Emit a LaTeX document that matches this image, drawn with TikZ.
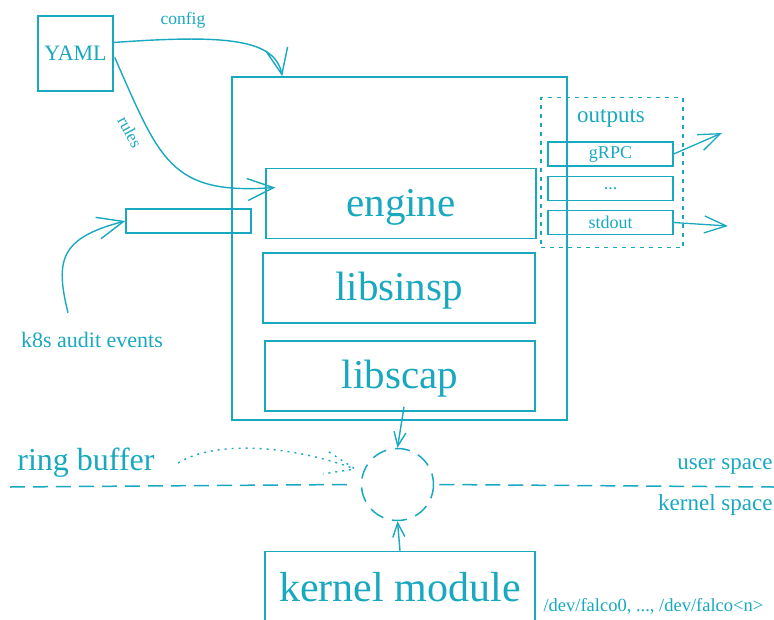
\documentclass[tikz,border=0pt]{standalone}
\usepackage{fontspec}
\setmainfont{Liberation Serif}
\usetikzlibrary{arrows.meta, calc}

\definecolor{falcoteal}{RGB}{24,168,192}
\newcommand{\pts}[1]{\fontsize{#1}{#1}\selectfont}

\tikzset{
 every node/.style={text=falcoteal},
 box/.style={draw=falcoteal, line width=1.5pt, inner sep=0pt},
 layer/.style={box, minimum width=270pt, minimum height=70pt, text depth=4pt},
 slot/.style={box, line width=1.3pt, minimum width=125pt, minimum height=24pt},
 arr/.style={draw=falcoteal, line width=1.4pt, -{Straight Barb[length=26pt,width=22pt]}},
 arrout/.style={draw=falcoteal, line width=1.3pt, -{Straight Barb[length=22pt,width=17pt]}},
 arrring/.style={draw=falcoteal, line width=1.4pt, -{Straight Barb[length=14pt,width=12pt]}},
 dots/.style={draw=falcoteal, line width=1.4pt, dash pattern=on 2pt off 5pt},
}

\begin{document}
\begin{tikzpicture}[x=1pt,y=-1pt]
 \useasboundingbox (0,0) rectangle (774,619);

 % configuration file
 \node[box, minimum width=75pt, minimum height=75pt] (yaml) at (75.5,53.5) {\pts{22}YAML};
 \node (cfg) at (183,20) {\pts{17.5}config};
 \node[rotate=-62] (rul) at (130,132) {\pts{17}rules};

 % userspace program and its libraries
 \node[box, minimum width=335pt, minimum height=343pt] (falco) at (399.5,248.5) {};
 \node[layer, text depth=1pt] (engine) at (401,203.5) {\pts{41}engine};
 \node[layer, minimum width=272pt] (libsinsp) at (399,288) {\pts{41}libsinsp};
 \node[layer] (libscap) at (400,376) {\pts{41}libscap};

 % k8s audit input
 \node[box, minimum width=125pt, minimum height=24pt] (k8sin) at (188.5,221) {};
 \node (k8s) at (92,340) {\pts{22}k8s audit events};

 % outputs
 \node[draw=falcoteal, line width=1.5pt, dash pattern=on 4pt off 5pt, minimum width=142pt, minimum height=150pt] (outs) at (612,172.5) {};
 \node (outlbl) at (611,118) {\pts{23}outputs};
 \node[slot] (grpc) at (610.5,154) {\pts{18}gRPC};
 \node[slot] (more) at (610.5,188.5) {\pts{18}...};
 \node[slot] (stdout) at (610.5,222.5) {\pts{18}stdout};
 \coordinate (grpcout) at (722,133);
 \coordinate (stdoutout) at (728,226);

 % ring buffer between kernel and user space
 \node[circle, draw=falcoteal, line width=1.5pt, dash pattern=on 15pt off 9pt, dash phase=4pt, minimum size=72pt, inner sep=0pt] (ring) at (397.5,484.5) {};
 \node (rblbl) at (86,463) {\pts{32}ring buffer};
 \coordinate (rbtip) at ($(ring.160)+(-8,-3)$);
 \coordinate (sepL) at (10,487);
 \coordinate (sepR) at (774,487);
 \node[anchor=east] (user) at (776,467) {\pts{23}user space};
 \node[anchor=east] (kern) at (776,505) {\pts{23}kernel space};

 % kernel module, runs off the page bottom
 \node[layer, text depth=0pt] (kmod) at (400,586.5) {\pts{42}kernel module};
 \node[anchor=west] (dev) at (540,606) {\pts{18.5}/dev/falco0, ..., /dev/falco<n>};

 \draw[arr] ($(yaml.east)+(0,-11)$) .. controls (230,34) and (275,40) .. ($(falco.north west)+(51,0)$);
 \draw[arr] ($(yaml.east)+(1,4)$) .. controls (160,160) and (170,195) .. ($(engine.west)+(10,-16)$);
 \draw[arr] ($(k8s.north)+(-24,-16)$) .. controls (55,260) and (60,238) .. (k8sin.west);
 \draw[arrout] (grpc.east) -- (grpcout);
 \draw[arrout] (stdout.east) -- (stdoutout);
 \draw[arrring] ($(libscap.south)+(4,-5)$) -- (ring.north);
 \draw[arrring] (kmod.north) -- (ring.south);
 \draw[dots] ($(rblbl.east)+(20,0)$) .. controls (215,440) and (290,445) .. (rbtip);
 \draw[dots] ($(rbtip)+(-26,-17)$) -- (rbtip) -- ($(rbtip)+(-32,5)$);
 \draw[draw=falcoteal, line width=1.5pt, dash pattern=on 15pt off 8pt] (sepL) -- ($(ring.west)+(-12,0)$);
 \draw[draw=falcoteal, line width=1.5pt, dash pattern=on 15pt off 8pt] ($(ring.east)+(5,0)$) -- (sepR);
\end{tikzpicture}
\end{document}
